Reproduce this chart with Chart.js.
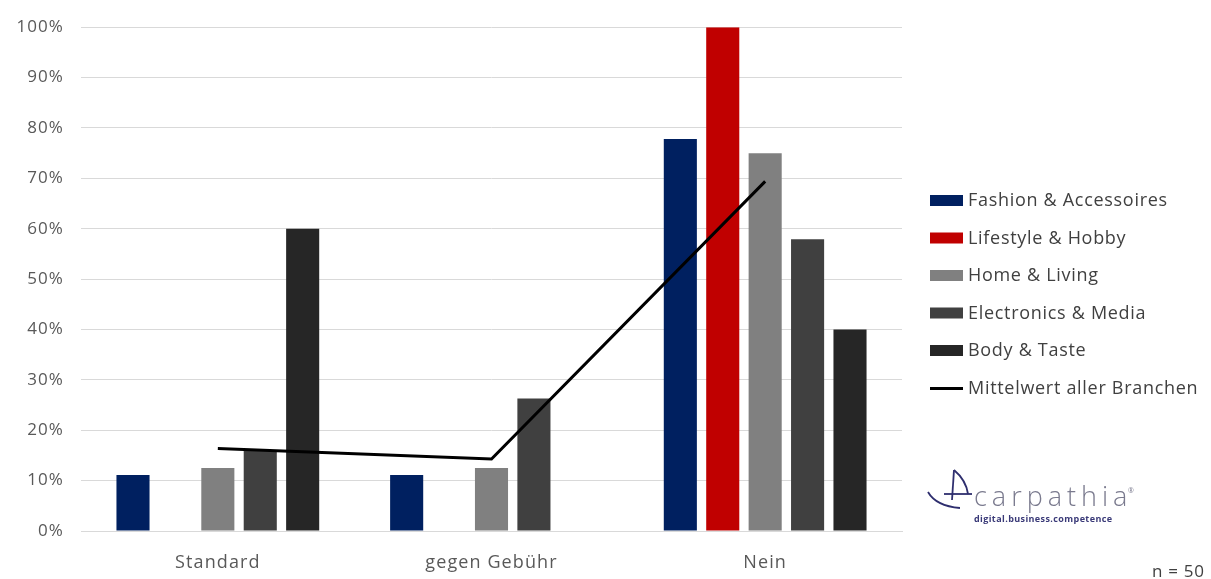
<!DOCTYPE html>
<html><head><meta charset="utf-8">
<script src="https://cdn.jsdelivr.net/npm/chart.js@4/dist/chart.umd.min.js"></script>
<style>html,body{margin:0;padding:0;background:#fff}#wrap{width:1211px;height:579px}</style>
</head><body><div id="wrap"><canvas id="c" width="1211" height="579"></canvas></div>
<script>
const categories = ['Standard', 'gegen Gebühr', 'Nein'];
const fashion = [11.1, 11.1, 77.8];
const lifestyle = [0, 0, 100];
const home = [12.5, 12.5, 75];
const electronics = [16, 26.3, 57.9];
const body = [60, 0, 40];
const average = [16.4, 14.3, 69.4];
const seriesNames = ['Fashion & Accessoires', 'Lifestyle & Hobby', 'Home & Living', 'Electronics & Media', 'Body & Taste', 'Mittelwert aller Branchen'];
const yTicks = [0, 10, 20, 30, 40, 50, 60, 70, 80, 90, 100];
const sampleNote = 'n = 50';

const FONT = '"Open Sans", "DejaVu Sans", sans-serif';
const colors = ['#002060', '#c00000', '#808080', '#404040', '#262626'];

const barSets = [fashion, lifestyle, home, electronics, body].map((d, i) => ({
  type: 'bar', label: seriesNames[i], data: d, backgroundColor: colors[i],
  borderWidth: 0, categoryPercentage: 0.775, barPercentage: 0.78, order: 2
}));

const spacing = {
  id: 'spacing',
  beforeInit(chart) { try { chart.ctx.letterSpacing = '1.1px'; } catch (e) {} },
  beforeUpdate(chart) { try { chart.ctx.letterSpacing = '1.1px'; } catch (e) {} },
  beforeDraw(chart) { try { chart.ctx.letterSpacing = '1.1px'; } catch (e) {} }
};

const extras = {
  id: 'extras',
  afterDraw(chart) {
    const ctx = chart.ctx;
    ctx.save();
    // legend
    const ds = chart.data.datasets;
    const lx = 930, ly0 = 200, step = 37.5;
    ctx.font = '18px ' + FONT;
    try { ctx.letterSpacing = '0.7px'; } catch (e) {}
    ctx.textBaseline = 'middle';
    ctx.textAlign = 'left';
    ds.forEach((d, i) => {
      const y = ly0 + i * step;
      if (d.type === 'line') {
        ctx.strokeStyle = d.borderColor; ctx.lineWidth = 3;
        ctx.beginPath(); ctx.moveTo(lx, y + 1); ctx.lineTo(lx + 33, y + 1); ctx.stroke();
      } else {
        ctx.fillStyle = d.backgroundColor;
        ctx.fillRect(lx, y - 5, 33, 11);
      }
      ctx.fillStyle = '#404040';
      ctx.fillText(d.label, lx + 38, y + 1);
    });
    // n = 50
    ctx.fillStyle = '#404040';
    ctx.font = '17px ' + FONT;
    ctx.textAlign = 'left';
    ctx.fillText(sampleNote, 1152, 572);
    // logo
    ctx.strokeStyle = '#2e2e6e'; ctx.lineWidth = 1.8;
    ctx.beginPath(); ctx.moveTo(954, 470); ctx.lineTo(952, 500); ctx.stroke();
    ctx.beginPath(); ctx.moveTo(954, 470); ctx.quadraticCurveTo(966, 480, 968, 494); ctx.stroke();
    ctx.beginPath(); ctx.moveTo(944, 494); ctx.lineTo(972, 494); ctx.stroke();
    ctx.beginPath(); ctx.moveTo(928, 492); ctx.quadraticCurveTo(936, 506, 960, 508); ctx.stroke();
    ctx.fillStyle = '#7a7a8e';
    ctx.textAlign = 'left'; ctx.textBaseline = 'alphabetic';
    ctx.font = '300 27px ' + FONT;
    try { ctx.letterSpacing = '5px'; } catch (e) {}
    ctx.fillText('carpathia', 974, 506);
    try { ctx.letterSpacing = '0px'; } catch (e) {}
    ctx.font = '7px ' + FONT;
    ctx.fillText('®', 1128, 493);
    ctx.fillStyle = '#3a3a78';
    ctx.font = 'bold 9px ' + FONT;
    try { ctx.letterSpacing = '0.4px'; } catch (e) {}
    ctx.fillText('digital.business.competence', 974, 522);
    ctx.restore();
  }
};

new Chart(document.getElementById('c'), {
  data: {
    labels: categories,
    datasets: [...barSets, {
      type: 'line', label: seriesNames[5], data: average, borderColor: '#000000',
      backgroundColor: '#000000', borderWidth: 3, pointRadius: 0, tension: 0, order: 1
    }]
  },
  options: {
    responsive: false, animation: false,
    layout: { padding: { left: 0, right: 309, top: 25, bottom: 0 } },
    plugins: { legend: { display: false }, tooltip: { enabled: false } },
    scales: {
      x: {
        grid: { display: false },
        border: { display: true, color: '#d9d9d9' },
        ticks: { color: '#595959', font: { family: FONT, size: 18 }, padding: 13 },
        afterFit(s) { s.height = 48; }
      },
      y: {
        min: 0, max: 100,
        afterBuildTicks(s) { s.ticks = yTicks.map(v => ({ value: v })); },
        grid: { color: '#d9d9d9', lineWidth: 1, drawTicks: false },
        border: { display: false },
        ticks: { color: '#595959', font: { family: FONT, size: 17 }, padding: 17, callback: v => v + '%' },
        afterFit(s) { s.width = 81; }
      }
    }
  },
  plugins: [spacing, extras]
});
</script></body></html>
